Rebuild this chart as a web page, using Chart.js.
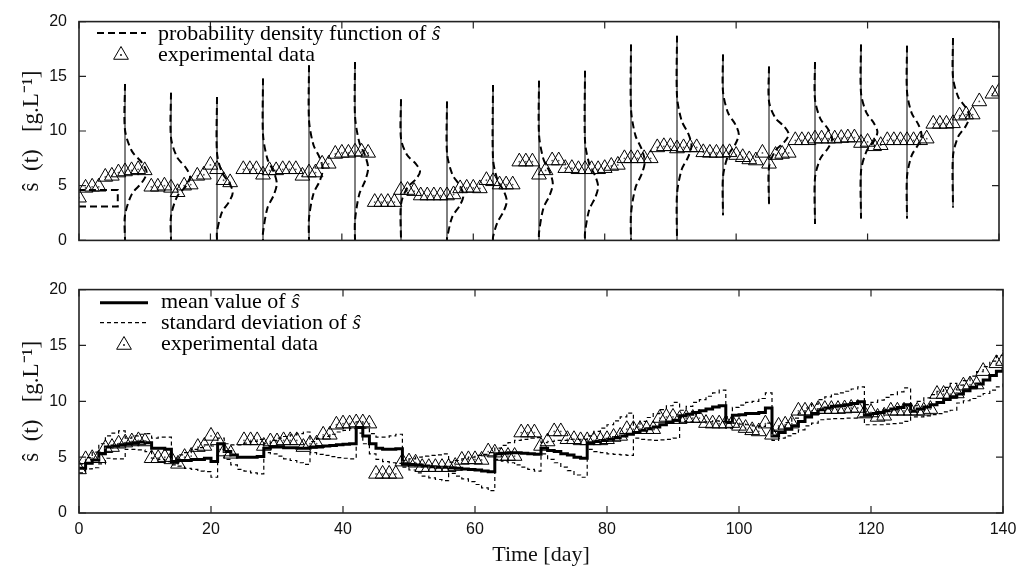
<!DOCTYPE html>
<html><head><meta charset="utf-8">
<script src="https://cdn.jsdelivr.net/npm/chart.js@4.4.1/dist/chart.umd.min.js"></script>
<style>
html,body{margin:0;padding:0;background:#fff;}
#top{position:absolute;left:0;top:0;width:1016px;height:262px;}
#bot{position:absolute;left:0;top:268px;width:1016px;height:302px;}
</style></head><body>
<div id="top"><canvas id="c1"></canvas></div>
<div id="bot"><canvas id="c2"></canvas></div>
<script>
// ---------- data ----------
const xTicks = [0, 20, 40, 60, 80, 100, 120, 140];
const yTicks = [0, 5, 10, 15, 20];

const expDays = [0,1,2,3,4,5,6,7,8,9,10,11,12,13,14,15,16,17,18,19,20,21,22,23,25,26,27,28,29,30,31,32,33,34,35,36,37,38,39,40,41,42,43,44,45,46,47,48,49,50,51,52,53,54,55,56,57,58,59,60,61,62,63,64,65,66,67,68,69,70,71,72,73,74,75,76,77,78,79,80,81,82,83,84,85,86,87,88,89,90,91,92,93,94,95,96,97,98,99,100,101,102,103,104,105,106,107,108,109,110,111,112,113,114,115,116,117,118,119,120,121,122,123,124,125,126,127,128,129,130,131,132,133,134,135,136,137,139,140];
const expValues = [3.9,4.8,4.9,4.9,5.8,5.9,6.2,6.3,6.4,6.5,6.4,4.9,4.9,5.0,4.8,4.4,5.0,5.1,5.9,6.0,6.9,6.5,5.5,5.3,6.5,6.5,6.5,6.0,6.4,6.4,6.5,6.5,6.5,5.9,6.2,6.2,7.0,7.0,7.9,8.0,8.0,8.1,8.1,8.0,3.5,3.5,3.5,3.5,4.6,4.6,4.5,4.1,4.1,4.1,4.1,4.1,4.2,4.75,4.8,4.8,4.75,5.5,5.4,5.1,5.1,5.1,7.2,7.2,7.2,6.0,6.4,7.3,7.3,6.6,6.6,6.5,6.5,6.5,6.5,6.6,6.8,6.9,7.5,7.5,7.5,7.5,7.5,8.5,8.6,8.6,8.4,8.5,8.5,8.5,8.05,8.0,8.0,8.0,8.05,7.8,7.6,7.4,7.3,8.0,7.0,7.8,7.9,8.0,9.15,9.15,9.15,9.3,9.3,9.3,9.3,9.35,9.4,9.4,8.9,9.0,8.6,8.7,9.15,9.15,9.15,9.15,9.15,9.15,9.3,10.65,10.65,10.65,10.7,11.4,11.5,11.5,12.7,13.4,13.6];

const modelDays = Array.from({length: 141}, (_, i) => i);
const meanValues = [4.0,4.45,4.75,5.3,5.9,6.0,6.1, 6.2,6.3,6.35,6.3,5.8,5.8,5.7, 4.6,4.7,4.7,4.8,4.8,4.9,4.6, 6.2,5.5,5.2,5.0,5.0,5.0,5.05, 5.8,5.9,5.9,5.85,5.85,5.8,5.8, 5.9,5.95,6.0,6.05,6.1,6.15,6.2, 7.65,6.9,6.2,5.8,5.7,5.7,5.75, 4.4,4.35,4.3,4.2,4.15,4.1,4.1, 4.05,4.0,3.95,3.9,3.85,3.75,3.7, 5.3,5.35,5.4,5.4,5.35,5.3,5.25, 5.8,5.6,5.5,5.3,5.2,5.0,4.9, 6.3,6.4,6.5,6.6,6.75,6.9,7.05, 7.2,7.4,7.55,7.7,7.9,8.1,8.3, 8.7,8.85,9.0,9.15,9.3,9.5,9.6, 8.1,8.75,8.8,8.9,8.9,9.0,9.4, 6.9,7.2,7.5,7.8,8.2,8.6,8.9, 9.25,9.4,9.55,9.6,9.7,9.8,9.95, 8.8,8.9,9.0,9.15,9.3,9.45,9.7, 9.1,9.3,9.5,9.7,9.9,10.15,10.4, 10.65,10.95,11.25,11.55,11.9,12.3,12.7, 13.1];
const stdValues = [0.4,0.5,0.7,0.9,1.0,1.15,1.25, 0.5,0.6,0.7,0.8,0.9,1.0,1.1, 0.3,0.5,0.7,0.9,1.05,1.2,1.4, 0.5,0.7,0.9,1.1,1.25,1.4,1.55, 0.4,0.6,0.8,1.0,1.15,1.3,1.45, 0.5,0.7,0.85,1.0,1.15,1.25,1.35, 0.5,0.7,0.9,1.0,1.1,1.2,1.3, 0.3,0.5,0.7,0.9,1.0,1.1,1.2, 0.5,0.7,0.9,1.1,1.3,1.5,1.7, 0.5,0.7,0.9,1.1,1.25,1.4,1.5, 0.5,0.8,1.0,1.2,1.4,1.6,1.7, 0.6,0.9,1.1,1.3,1.5,1.7,1.9, 0.5,0.8,1.0,1.2,1.35,1.5,1.6, 0.5,0.7,0.9,1.0,1.15,1.25,1.4, 0.5,0.7,0.85,1.0,1.1,1.25,1.35, 0.4,0.5,0.6,0.7,0.75,0.8,0.85, 0.9,1.0,1.1,1.15,1.2,1.3,1.35, 0.9,1.0,1.1,1.2,1.3,1.4,1.5, 0.5,0.7,0.8,0.9,1.0,1.1,1.2, 0.8,0.9,1.0,1.1,1.2,1.3,1.4, 1.5];

// probability density functions drawn at each weekly measurement day
const pdfDays   = [7,14,21,28,35,42,49,56,63,70,77,84,91,98,105,112,119,126,133];
const pdfTop    = [14.3,13.5,13.1,14.8,16.0,16.3,12.9,12.7,14.2,14.6,15.5,17.9,18.7,17.0,15.9,16.3,17.9,17.8,18.5];
const pdfBottom = [0,0,0,0,0,0,0,0,0,0,0,0,0,2.3,3.3,1.5,2.0,2.0,3.0];
const pdfBells = [
  [[7,10.1],[8.06,8.15],[9.57,7.11],[10.3,6.2],[9.57,5.29],[8.06,4.25],[7,2.3]],
  [[14,9.4],[14.93,7.6],[16.26,6.64],[16.9,5.8],[16.26,4.96],[14.93,4.0],[14,2.2]],
  [[21,8.0],[21.77,6.2],[22.87,5.24],[23.4,4.4],[22.87,3.56],[21.77,2.6],[21,0.8]],
  [[28,9.7],[28.67,7.45],[29.64,6.25],[30.1,5.2],[29.64,4.15],[28.67,2.95],[28,0.7]],
  [[35,11.0],[35.67,8.75],[36.64,7.55],[37.1,6.5],[36.64,5.45],[35.67,4.25],[35,2.0]],
  [[42,11.4],[42.64,9.0],[43.56,7.72],[44.0,6.6],[43.56,5.48],[42.64,4.2],[42,1.8]],
  [[49,9.3],[49.93,7.8],[51.26,7.0],[51.9,6.3],[51.26,5.6],[49.93,4.8],[49,3.3]],
  [[56,8.0],[56.8,6.05],[57.95,5.01],[58.5,4.1],[57.95,3.19],[56.8,2.15],[56,0.2]],
  [[63,7.5],[63.67,5.55],[64.64,4.51],[65.1,3.6],[64.64,2.69],[63.67,1.65],[63,0.3]],
  [[70,9.7],[70.67,7.45],[71.64,6.25],[72.1,5.2],[71.64,4.15],[70.67,2.95],[70,0.7]],
  [[77,9.1],[77.64,7.0],[78.56,5.88],[79.0,4.9],[78.56,3.92],[77.64,2.8],[77,0.7]],
  [[84,12.0],[84.67,9.6],[85.64,8.32],[86.1,7.2],[85.64,6.08],[84.67,4.8],[84,2.4]],
  [[91,13.2],[91.7,10.95],[92.72,9.75],[93.2,8.7],[92.72,7.65],[91.7,6.45],[91,4.2]],
  [[98,13.6],[98.77,11.65],[99.87,10.61],[100.4,9.7],[99.87,8.79],[98.77,7.75],[98,5.8]],
  [[105,12.7],[105.96,11.2],[107.34,10.4],[108.0,9.7],[107.34,9.0],[105.96,8.2],[105,6.7]],
  [[112,12.9],[112.83,11.1],[114.03,10.14],[114.6,9.3],[114.03,8.46],[112.83,7.5],[112,5.7]],
  [[119,13.5],[119.8,11.7],[120.95,10.74],[121.5,9.9],[120.95,9.06],[119.8,8.1],[119,6.3]],
  [[126,13.6],[126.7,11.65],[127.72,10.61],[128.2,9.7],[127.72,8.79],[126.7,7.75],[126,5.8]],
  [[133,14.9],[133.8,13.1],[134.95,12.14],[135.5,11.3],[134.95,10.46],[133.8,9.5],[133,7.7]]
];
// initial (uniform) density at day 0
const priorBox = [[0,3.1],[5.9,3.1],[5.9,4.6],[0,4.6]];

// ---------- helpers ----------
Chart.defaults.font.family = '"Liberation Sans", Arial, sans-serif';
Chart.defaults.color = '#111';
const SERIF = '"Liberation Serif", "Times New Roman", serif';
const pts = arr => arr.map(p => ({x: p[0], y: p[1]}));

function frameTicks() {
  return {id: 'frameTicks', afterDatasetsDraw(chart) {
    const {ctx, chartArea: a, scales: {x, y}} = chart;
    ctx.save();
    ctx.strokeStyle = '#222'; ctx.setLineDash([]); ctx.lineWidth = 1.2;
    ctx.beginPath();
    for (const v of xTicks) { const p = x.getPixelForValue(v);
      ctx.moveTo(p, a.bottom); ctx.lineTo(p, a.bottom - 7); ctx.moveTo(p, a.top); ctx.lineTo(p, a.top + 7); }
    for (const v of yTicks) { const p = y.getPixelForValue(v);
      ctx.moveTo(a.left, p); ctx.lineTo(a.left + 7, p); ctx.moveTo(a.right, p); ctx.lineTo(a.right - 7, p); }
    ctx.stroke();
    ctx.lineWidth = 1.6;
    ctx.strokeRect(a.left, a.top, a.right - a.left, a.bottom - a.top);
    ctx.restore();
  }};
}
function drawTri(ctx, x, y, r) {
  ctx.beginPath();
  for (let k = 0; k < 3; k++) { const ang = k * 2 * Math.PI / 3;
    const px = x + Math.sin(ang) * r, py = y - Math.cos(ang) * r;
    if (k === 0) ctx.moveTo(px, py); else ctx.lineTo(px, py); }
  ctx.closePath(); ctx.stroke();
}
function legendPlugin(items) {
  return {id: 'legendBox', afterDraw(chart) {
    const ctx = chart.ctx; ctx.save();
    ctx.strokeStyle = '#000'; ctx.fillStyle = '#000';
    for (const it of items) {
      if (it.kind === 'line') {
        ctx.lineWidth = it.w; ctx.setLineDash(it.dash || []);
        ctx.beginPath(); ctx.moveTo(it.x1, it.y); ctx.lineTo(it.x2, it.y); ctx.stroke();
      } else if (it.kind === 'tri') {
        ctx.lineWidth = 1; ctx.setLineDash([]); drawTri(ctx, it.x, it.y, it.r);
        ctx.beginPath(); ctx.arc(it.x, it.y, 0.9, 0, 2 * Math.PI); ctx.fill();
      } else if (it.kind === 'text') {
        ctx.textBaseline = 'alphabetic'; ctx.textAlign = 'left';
        let x = it.x;
        for (const [t, ital] of it.parts) {
          ctx.font = (ital ? 'italic ' : '') + '22px ' + SERIF;
          ctx.fillText(t, x, it.y); x += ctx.measureText(t).width;
        }
      }
    }
    ctx.restore();
  }};
}
const yAxis = () => ({
  type: 'linear', min: 0, max: 20,
  afterFit: s => { s.width = 79; },
  grid: {display: false, drawTicks: false}, border: {display: false},
  ticks: {stepSize: 5, padding: 12, font: {size: 16}, color: '#111'},
  title: {display: true, text: 'ŝ  (t)   [g.L⁻¹]', font: {family: SERIF, size: 23}, color: '#111', padding: {top: 18, bottom: 0}}
});
const expPoints = pts(expDays.map((d, i) => [d, expValues[i]]));
const triSet = {label: 'experimental data', data: expPoints, showLine: false, pointStyle: 'triangle', pointRadius: 8.5, pointBorderWidth: 1, pointBorderColor: '#000', pointBackgroundColor: 'rgba(0,0,0,0)', borderColor: '#000'};
const dotSet = {label: 'dots', data: expPoints, showLine: false, pointStyle: 'circle', pointRadius: 0.9, pointBorderWidth: 0, pointBackgroundColor: '#555'};

// ---------- top chart ----------
const topSets = [triSet, dotSet];
pdfDays.forEach((d, k) => {
  topSets.push({label: 'pdf' + d, data: pts([[d, pdfTop[k]], ...pdfBells[k], [d, pdfBottom[k]]]),
    borderColor: '#000', borderWidth: 2, borderDash: [7, 4], pointRadius: 0, tension: 0.3, fill: false});
  topSets.push({label: 'axis' + d, data: pts([[d, pdfBottom[k]], [d, pdfTop[k]]]),
    borderColor: '#000', borderWidth: 1, pointRadius: 0, tension: 0, fill: false});
});
topSets.push({label: 'prior', data: pts(priorBox), borderColor: '#000', borderWidth: 2, borderDash: [7, 4], pointRadius: 0, tension: 0, fill: false});

new Chart(document.getElementById('c1'), {
  type: 'line',
  data: {datasets: topSets},
  options: {
    responsive: true, maintainAspectRatio: false, animation: false, events: [],
    layout: {padding: {top: 15, right: 17, bottom: 15.3, left: 0}},
    plugins: {legend: {display: false}, tooltip: {enabled: false}},
    scales: {
      x: {type: 'linear', min: 0, max: 140, display: false},
      y: yAxis()
    }
  },
  plugins: [frameTicks(), legendPlugin([
    {kind: 'line', x1: 97, x2: 146, y: 33, w: 2, dash: [7, 4]},
    {kind: 'text', x: 158, y: 40, parts: [['probability density function of ', false], ['ŝ', true]]},
    {kind: 'tri', x: 121, y: 55, r: 8.5},
    {kind: 'text', x: 158, y: 61, parts: [['experimental data', false]]}
  ])]
});

// ---------- bottom chart ----------
const meanPts = modelDays.map((d, i) => ({x: d, y: meanValues[i]}));
const upperPts = modelDays.map((d, i) => ({x: d, y: meanValues[i] + stdValues[i]}));
const lowerPts = modelDays.map((d, i) => ({x: d, y: meanValues[i] - stdValues[i]}));

new Chart(document.getElementById('c2'), {
  type: 'line',
  data: {datasets: [
    triSet, dotSet,
    {label: 'mean value', data: meanPts, stepped: 'before', borderColor: '#000', borderWidth: 3, pointRadius: 0, fill: false},
    {label: 'std upper', data: upperPts, stepped: 'before', borderColor: '#000', borderWidth: 1.2, borderDash: [4, 3], pointRadius: 0, fill: false},
    {label: 'std lower', data: lowerPts, stepped: 'before', borderColor: '#000', borderWidth: 1.2, borderDash: [4, 3], pointRadius: 0, fill: false}
  ]},
  options: {
    responsive: true, maintainAspectRatio: false, animation: false, events: [],
    layout: {padding: {top: 15, right: 13, bottom: 0, left: 0}},
    plugins: {legend: {display: false}, tooltip: {enabled: false}},
    scales: {
      x: {type: 'linear', min: 0, max: 140,
        afterFit: s => { s.height = 57; s.paddingRight = 0; s.paddingLeft = 0; },
        grid: {display: false, drawTicks: false}, border: {display: false},
        ticks: {stepSize: 20, padding: 7, font: {size: 16}, color: '#111', maxRotation: 0},
        title: {display: true, text: 'Time [day]', font: {family: SERIF, size: 22}, color: '#111', padding: {top: 0, bottom: 2}}},
      y: yAxis()
    }
  },
  plugins: [frameTicks(), legendPlugin([
    {kind: 'line', x1: 100, x2: 148, y: 34.7, w: 3},
    {kind: 'text', x: 161, y: 40, parts: [['mean value of ', false], ['ŝ', true]]},
    {kind: 'line', x1: 100, x2: 148, y: 54.7, w: 1.2, dash: [4, 3]},
    {kind: 'text', x: 161, y: 61, parts: [['standard deviation of ', false], ['ŝ', true]]},
    {kind: 'tri', x: 124, y: 77, r: 8.5},
    {kind: 'text', x: 161, y: 82, parts: [['experimental data', false]]}
  ])]
});
</script>
</body></html>
